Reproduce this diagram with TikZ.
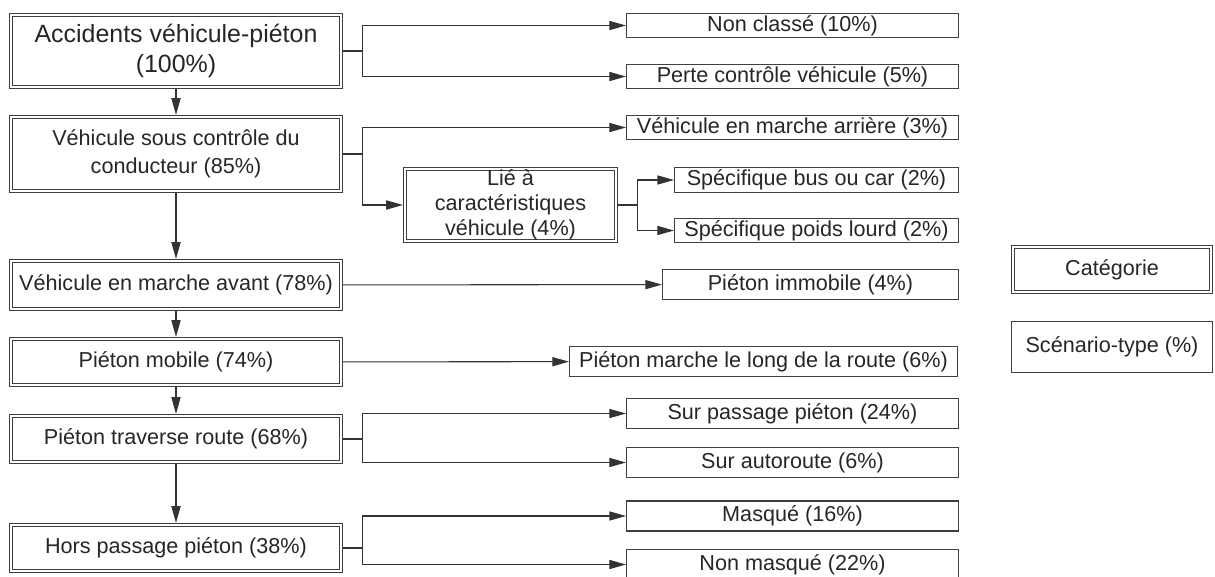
\documentclass[tikz,border=0pt]{standalone}
\usepackage{fontspec}
\setmainfont{Liberation Sans}
\usetikzlibrary{arrows.meta}

\begin{document}
\begin{tikzpicture}[x=0.02cm, y=-0.02cm,
	cat/.style={draw=black!75, double=white, line width=0.6pt, double distance=1.2pt, outer sep=1.2pt, inner sep=0pt, align=center, text=black!85, minimum width=6.6cm, font=\fontsize{12.3}{15.9}\selectfont},
	scen/.style={draw=black!75, line width=0.6pt, inner sep=0pt, align=center, text=black!85, minimum width=6.64cm, font=\fontsize{12.3}{14.8}\selectfont},
	link/.style={draw=black!80, line width=0.6pt, -{Triangle[length=9.5pt,width=5.2pt]}},
	stemline/.style={draw=black!80, line width=0.6pt}]
	\useasboundingbox (0, 0) rectangle (1215, 576);
	\node[cat, minimum height=1.44cm, font=\fontsize{14.2}{17}\selectfont] (c1) at (176, 51) {Accidents véhicule-piéton\\(100\%)};
	\node[cat, minimum height=1.48cm] (c2) at (176, 154) {Véhicule sous contrôle du\\conducteur (85\%)};
	\node[cat, minimum height=0.96cm] (c3) at (176, 285) {Véhicule en marche avant (78\%)};
	\node[cat, minimum height=0.92cm] (c4) at (176, 362) {Piéton mobile (74\%)};
	\node[cat, minimum height=0.92cm] (c5) at (176, 439) {Piéton traverse route (68\%)};
	\node[cat, minimum height=0.92cm] (c6) at (176, 548) {Hors passage piéton (38\%)};
	\node[cat, minimum width=4.22cm, minimum height=1.44cm, font=\fontsize{12.3}{14.2}\selectfont] (c7) at (510.5, 205) {Lié à\\caractéristiques\\véhicule (4\%)};

	\node[scen, minimum height=0.49cm] (s1) at (792.5, 25.5) {Non classé (10\%)};
	\node[scen, minimum height=0.49cm] (s2) at (792.5, 76.5) {Perte contrôle véhicule (5\%)};
	\node[scen, minimum height=0.49cm] (s3) at (792.5, 127.5) {Véhicule en marche arrière (3\%)};
	\node[scen, minimum width=5.68cm, minimum height=0.49cm] (s4) at (816.5, 180) {Spécifique bus ou car (2\%)};
	\node[scen, minimum width=5.68cm, minimum height=0.49cm] (s5) at (816.5, 230.5) {Spécifique poids lourd (2\%)};
	\node[scen, minimum width=5.92cm, minimum height=0.6cm] (s6) at (810.5, 284.5) {Piéton immobile (4\%)};
	\node[scen, minimum width=7.76cm, minimum height=0.6cm] (s7) at (763.5, 361.5) {Piéton marche le long de la route (6\%)};
	\node[scen, minimum height=0.6cm] (s8) at (792.5, 413.5) {Sur passage piéton (24\%)};
	\node[scen, minimum height=0.6cm] (s9) at (792.5, 462.5) {Sur autoroute (6\%)};
	\node[scen, minimum height=0.6cm] (s10) at (792.5, 516) {Masqué (16\%)};
	\node[scen, minimum height=0.6cm] (s11) at (792.5, 564.5) {Non masqué (22\%)};

	\node[cat, minimum width=3.96cm, minimum height=0.9cm] (l1) at (1112, 269.5) {Catégorie};
	\node[scen, minimum width=4.02cm, minimum height=1.02cm] (l2) at (1112, 347) {Scénario-type (\%)};

	\draw[link] (c1) -- (c2);
	\draw[link] (c2) -- (c3);
	\draw[link] (c3) -- (c4);
	\draw[link] (c4) -- (c5);
	\draw[link] (c5) -- (c6);

	\draw[stemline] (c1.east) -- ++(19, 0) coordinate (k1);
	\draw[link] (k1) |- (s1);
	\draw[link] (k1) |- (s2);
	\draw[stemline] (c2.east) -- ++(19, 0) coordinate (k2);
	\draw[link] (k2) |- (s3);
	\draw[link] (k2) |- (c7);
	\draw[stemline] (c7.east) -- ++(19, 0) coordinate (k3);
	\draw[link] (k3) |- (s4);
	\draw[link] (k3) |- (s5);
	\draw[link] (c3) -- (s6);
	\draw[link] (c4) -- (s7);
	\draw[stemline] (c5.east) -- ++(19, 0) coordinate (k5);
	\draw[link] (k5) |- (s8);
	\draw[link] (k5) |- (s9);
	\draw[stemline] (c6.east) -- ++(19, 0) coordinate (k6);
	\draw[link] (k6) |- (s10);
	\draw[link] (k6) |- (s11);
\end{tikzpicture}
\end{document}
